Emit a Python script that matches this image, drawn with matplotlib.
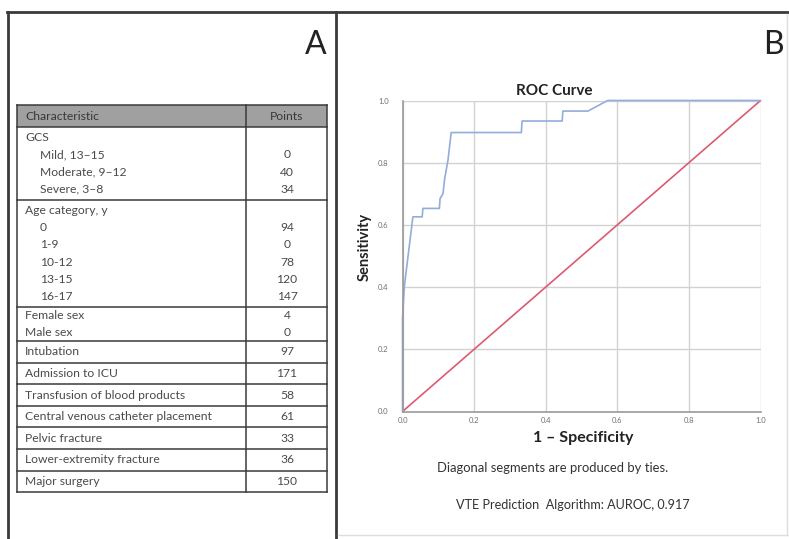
import numpy as np
import matplotlib
matplotlib.use("Agg")
import matplotlib.pyplot as plt

# ==========================================
# DATA
# ==========================================
# Panel A: scoring table, grouped in blocks
GCS_ROWS = ["GCS", "Mild, 13\u201315", "Moderate, 9\u201312", "Severe, 3\u20138"]
GCS_POINTS = ["", "0", "40", "34"]
AGE_ROWS = ["Age category, y", "0", "1-9", "10-12", "13-15", "16-17"]
AGE_POINTS = ["", "94", "0", "78", "120", "147"]
SEX_ROWS = ["Female sex", "Male sex"]
SEX_POINTS = ["4", "0"]
SINGLE_ROWS = ["Intubation", "Admission to ICU", "Transfusion of blood products",
               "Central venous catheter placement", "Pelvic fracture",
               "Lower-extremity fracture", "Major surgery"]
SINGLE_POINTS = ["97", "171", "58", "61", "33", "36", "150"]

# Panel B: ROC curve (1 - specificity, sensitivity)
FPR = [0.0, 0.0, 0.004, 0.006, 0.029, 0.055, 0.057, 0.103, 0.105, 0.113,
       0.118, 0.127, 0.136, 0.332, 0.334, 0.446, 0.448, 0.518, 0.573, 1.0]
TPR = [0.0, 0.30, 0.38, 0.41, 0.626, 0.626, 0.653, 0.653, 0.685, 0.70,
       0.75, 0.808, 0.897, 0.897, 0.934, 0.934, 0.966, 0.966, 1.0, 1.0]
CHANCE = [0.0, 1.0]
TICKS = [0.0, 0.2, 0.4, 0.6, 0.8, 1.0]

W, H = 789, 539
FONT = ["Lato", "DejaVu Sans"]
LINE = "#3a3a3a"
TXT = "#4a4a4a"
TFS = 8.7  # table font size

fig = plt.figure(figsize=(W / 100, H / 100), dpi=100)
bg = fig.add_axes([0, 0, 1, 1])
bg.set_xlim(0, W)
bg.set_ylim(H, 0)
bg.axis("off")

# outer frame and panel divider
bg.plot([7, W], [12, 12], color=LINE, lw=2)
bg.plot([8, 8], [12, H], color=LINE, lw=2)
bg.plot([336, 336], [12, H], color=LINE, lw=2)
bg.plot([338, W - 1], [535, 535], color="#dddddd", lw=1)
bg.plot([W - 1.5, W - 1.5], [14, 535], color="#dddddd", lw=1)

bg.text(327, 45, "A", fontsize=23, family=FONT, color="#222222",
        ha="right", va="center")
bg.text(784, 45, "B", fontsize=23, family=FONT, color="#222222",
        ha="right", va="center")

# ---- table
tx0, tx1, tcol = 17, 327, 246
lab_x, ind_x, pts_x = 25, 40, 287
top = 105
hdr_h = 22
bg.add_patch(plt.Rectangle((tx0, top), tx1 - tx0, hdr_h, facecolor="#a0a0a0",
                           edgecolor="none"))
bg.text(lab_x, top + hdr_h / 2, "Characteristic", fontsize=TFS, family=FONT,
        color="#383838", va="center")
bg.text(pts_x, top + hdr_h / 2, "Points", fontsize=TFS, family=FONT,
        color="#383838", va="center", ha="center")

blocks = [(GCS_ROWS, GCS_POINTS, True), (AGE_ROWS, AGE_POINTS, True),
          (SEX_ROWS, SEX_POINTS, False)]
blocks += [([r], [p], False) for r, p in zip(SINGLE_ROWS, SINGLE_POINTS)]

y = top + hdr_h
edges = [top, y]
for rows, pts, grouped in blocks:
    n = len(rows)
    if n > 1:
        step = 17.2 if grouped else 16.5
        h = step * n + (4 if grouped else 1)
    else:
        step, h = 0, 21.6
    mid = y + h / 2
    for i, (r, p) in enumerate(zip(rows, pts)):
        yy = mid + (i - (n - 1) / 2) * step
        xx = ind_x if (grouped and i > 0) else lab_x
        bg.text(xx, yy, r, fontsize=TFS, family=FONT, color=TXT, va="center")
        if p:
            bg.text(pts_x, yy, p, fontsize=TFS, family=FONT, color=TXT,
                    va="center", ha="center")
    y += h
    edges.append(y)

for e in edges:
    bg.plot([tx0, tx1], [e, e], color=LINE, lw=1.1)
bg.plot([tx0, tx0], [top, y], color=LINE, lw=1.1)
bg.plot([tx1, tx1], [top, y], color=LINE, lw=1.1)
bg.plot([tcol, tcol], [top, y], color=LINE, lw=1.1)

# ---- ROC panel
px0, px1, py0, py1 = 402.5, 760.5, 100.5, 411.5
ax = fig.add_axes([px0 / W, 1 - py1 / H, (px1 - px0) / W, (py1 - py0) / H])
ax.set_xlim(0, 1)
ax.set_ylim(0, 1)
ax.set_xticks(TICKS)
ax.set_yticks(TICKS)
ax.set_xticklabels([f"{t:.1f}" for t in TICKS], fontsize=5.5, color="#707070",
                   family=FONT)
ax.set_yticklabels([f"{t:.1f}" for t in TICKS], fontsize=5.5, color="#707070",
                   family=FONT)
ax.tick_params(axis="y", length=0, pad=10)
ax.tick_params(axis="x", length=0, pad=4)
ax.grid(True, color="#d2d2d2", lw=1)
ax.set_axisbelow(True)
for s in ["top", "right"]:
    ax.spines[s].set_visible(False)
for s in ["left", "bottom"]:
    ax.spines[s].set_color("#9a9a9a")
    ax.spines[s].set_linewidth(1.2)

ax.plot(CHANCE, CHANCE, color="#dc5a72", lw=1.2)
ax.plot(FPR, TPR, color="#92acdc", lw=1.2, clip_on=False)

bg.text(554, 91, "ROC Curve", fontsize=11, fontweight="bold", family=FONT,
        color="#222222", ha="center", va="center")
bg.text(365, 247, "Sensitivity", fontsize=10.5, fontweight="bold", family=FONT,
        color="#222222", ha="center", va="center", rotation=90)
bg.text(583, 438, "1 \u2013 Specificity", fontsize=11.5, fontweight="bold",
        family=FONT, color="#222222", ha="center", va="center")
bg.text(553, 468, "Diagonal segments are produced by ties.", fontsize=9.4,
        family=FONT, color="#333333", ha="center", va="center")
bg.text(573, 505, "VTE Prediction  Algorithm: AUROC, 0.917", fontsize=9.1,
        family=FONT, color="#333333", ha="center", va="center")

fig.savefig("out.png", dpi=100)
